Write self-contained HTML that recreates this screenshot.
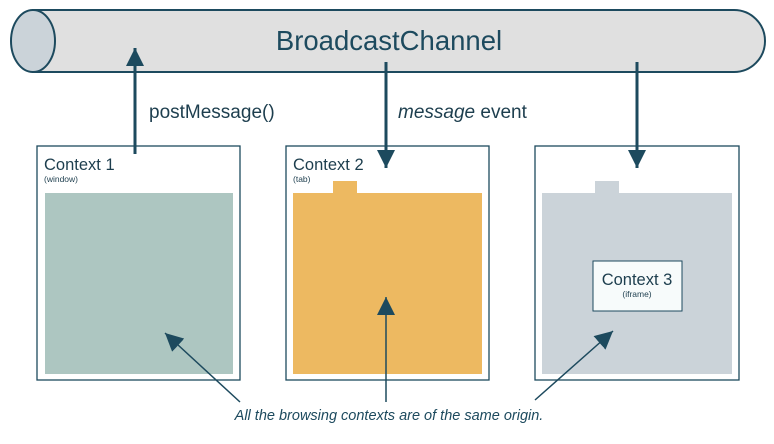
<!DOCTYPE html>
<html><head><style>body{margin:0;background:#fff}</style></head><body>
<svg width="774" height="439" viewBox="0 0 774 439" xmlns="http://www.w3.org/2000/svg" font-family="Liberation Sans, sans-serif">
<defs><marker id="b" markerWidth="20" markerHeight="18" refX="18" refY="9" orient="auto" markerUnits="userSpaceOnUse"><path d="M0,0 L18,9 L0,18z" fill="#1d4a5e"/></marker></defs>
<path d="M33,10 H734 A31,31 0 0 1 734,72 H33 Z" fill="#e0e0e0" stroke="#1d4a5e" stroke-width="2"/>
<ellipse cx="33" cy="41" rx="22" ry="31" fill="#cbd3d9" stroke="#1d4a5e" stroke-width="2"/>
<text x="389" y="50" text-anchor="middle" font-size="27.5" fill="#1d4a5e">BroadcastChannel</text>
<text x="149" y="118" font-size="19" fill="#1d3e4e">postMessage()</text>
<text x="398" y="118" font-size="19" fill="#1d3e4e"><tspan font-style="italic">message</tspan> event</text>
<rect x="37" y="146" width="203" height="234" fill="#fff" stroke="#1d4a5e" stroke-width="1.3"/>
<rect x="286" y="146" width="203" height="234" fill="#fff" stroke="#1d4a5e" stroke-width="1.3"/>
<rect x="535" y="146" width="204" height="234" fill="#fff" stroke="#1d4a5e" stroke-width="1.3"/>
<rect x="45" y="193" width="188" height="181" fill="#adc6c1"/>
<rect x="293" y="193" width="189" height="181" fill="#edb961"/>
<rect x="333" y="181" width="24" height="13" fill="#edb961"/>
<rect x="542" y="193" width="190" height="181" fill="#cbd3d9"/>
<rect x="595" y="181" width="24" height="13" fill="#cbd3d9"/>
<rect x="593" y="261" width="89" height="50" fill="#f7fbfb" stroke="#1d4a5e" stroke-width="1"/>
<text x="44" y="170" font-size="16.5" fill="#1d3e4e">Context 1</text>
<text x="44" y="182" font-size="8.5" fill="#1d3e4e">(window)</text>
<text x="293" y="170" font-size="16.5" fill="#1d3e4e">Context 2</text>
<text x="293" y="182" font-size="8.5" fill="#1d3e4e">(tab)</text>
<text x="637" y="285" text-anchor="middle" font-size="16.5" fill="#1d3e4e">Context 3</text>
<text x="637" y="297" text-anchor="middle" font-size="8.5" fill="#1d3e4e">(iframe)</text>
<line x1="135" y1="154" x2="135" y2="48" stroke="#1d4a5e" stroke-width="3" marker-end="url(#b)"/>
<line x1="386" y1="62" x2="386" y2="168" stroke="#1d4a5e" stroke-width="3" marker-end="url(#b)"/>
<line x1="637" y1="62" x2="637" y2="168" stroke="#1d4a5e" stroke-width="3" marker-end="url(#b)"/>
<line x1="240" y1="402" x2="165" y2="333" stroke="#1d4a5e" stroke-width="1.5" marker-end="url(#b)"/>
<line x1="386" y1="402" x2="386" y2="297" stroke="#1d4a5e" stroke-width="1.5" marker-end="url(#b)"/>
<line x1="535" y1="400" x2="613" y2="331" stroke="#1d4a5e" stroke-width="1.5" marker-end="url(#b)"/>
<text x="389" y="420" text-anchor="middle" font-size="14.5" font-style="italic" fill="#1d4a5e">All the browsing contexts are of the same origin.</text>
</svg>
</body></html>
